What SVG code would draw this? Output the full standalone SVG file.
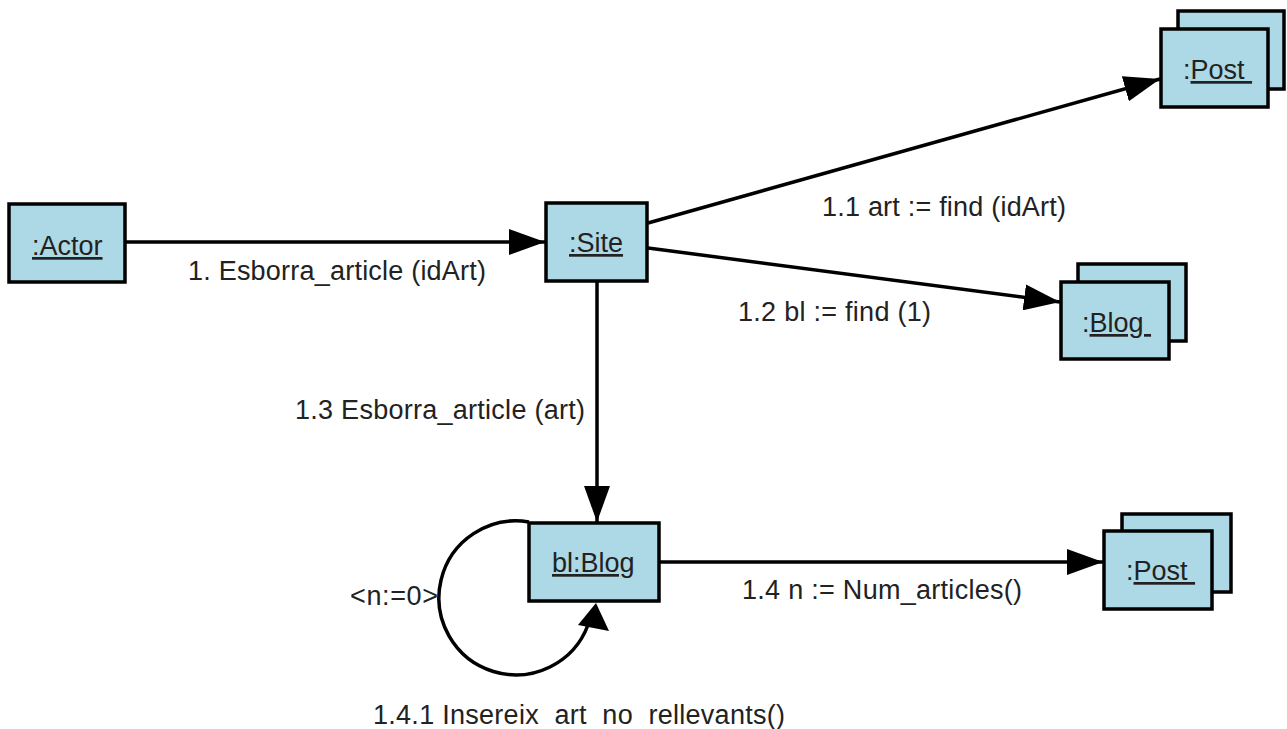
<svg xmlns="http://www.w3.org/2000/svg" width="1287" height="729" viewBox="0 0 1287 729">
<style>
.obj{fill:#ADD8E6;stroke:#000;stroke-width:3.5}
.t{font-family:"Liberation Sans",Arial,sans-serif;font-size:27px;fill:#222;white-space:pre}
.u{text-decoration:underline}
.c{fill:none;stroke:#000;stroke-width:3.5}
</style>
<defs>
<marker id="ah" viewBox="0 0 36 26" refX="36" refY="13" markerWidth="36" markerHeight="26" markerUnits="userSpaceOnUse" orient="auto">
<path d="M0 0 L36 13 L0 26 Z" fill="#000"/>
</marker>
</defs>
<rect width="1287" height="729" fill="#fff"/>
<g id="connectors">
<path class="c" d="M125 242 L545 242" marker-end="url(#ah)"/>
<path class="c" d="M648 223 L1160 79" marker-end="url(#ah)"/>
<path class="c" d="M648 248 L1060 302" marker-end="url(#ah)"/>
<path class="c" d="M597 282 L597 522" marker-end="url(#ah)"/>
<path class="c" d="M660 562 L1103 562" marker-end="url(#ah)"/>
<path class="c" d="M529 522 A77 77 0 1 0 588 625"/>
<polygon points="596,603 578,625 609,631" fill="#000"/>
<text class="t" x="188" y="280" textLength="298">1. Esborra_article (idArt)</text>
<text class="t" x="822" y="216" textLength="244">1.1 art := find (idArt)</text>
<text class="t" x="738" y="321" textLength="193">1.2 bl := find (1)</text>
<text class="t" x="295" y="419" textLength="290">1.3 Esborra_article (art)</text>
<text class="t" x="742" y="599" textLength="280">1.4 n := Num_articles()</text>
<text class="t" x="350" y="605" textLength="88">&lt;n:=0&gt;</text>
<text class="t" x="373" y="724" textLength="412">1.4.1 Insereix  art  no  rellevants()</text>
</g>
<g id="actor">
<rect class="obj" x="9" y="204" width="116" height="78"/>
<text class="t u" x="32" y="255">:Actor</text>
</g>
<g id="site">
<rect class="obj" x="546" y="203" width="101" height="78"/>
<text class="t u" x="569" y="252">:Site</text>
</g>
<g id="post1">
<rect class="obj" x="1178" y="11" width="106" height="78"/>
<rect class="obj" x="1161" y="29" width="107" height="78"/>
<text class="t" x="1183" y="79">:<tspan class="u">Post&#160;</tspan></text>
</g>
<g id="blog">
<rect class="obj" x="1078" y="264" width="108" height="77"/>
<rect class="obj" x="1061" y="282" width="108" height="77"/>
<text class="t" x="1082" y="332">:<tspan class="u">Blog&#160;</tspan></text>
</g>
<g id="blblog">
<rect class="obj" x="529" y="523" width="130" height="78"/>
<text class="t u" x="552" y="572">bl:Blog</text>
</g>
<g id="post2">
<rect class="obj" x="1122" y="514" width="109" height="78"/>
<rect class="obj" x="1104" y="531" width="108" height="78"/>
<text class="t" x="1126" y="580">:<tspan class="u">Post&#160;</tspan></text>
</g>
</svg>
